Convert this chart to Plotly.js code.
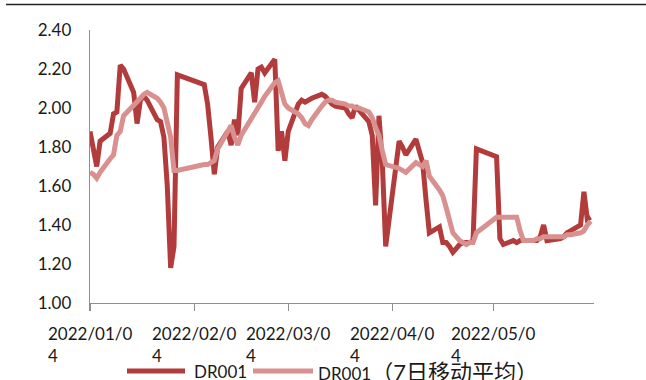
<!DOCTYPE html>
<html><head><meta charset="utf-8">
<script src="https://cdn.plot.ly/plotly-3.0.1.min.js"></script>
<style>html,body{margin:0;padding:0;background:#fff;}#chart{width:646px;height:380px;}</style>
</head><body><div id="chart"></div>
<script>
const dates = [
'2022-01-04','2022-01-05','2022-01-06','2022-01-07','2022-01-10','2022-01-11','2022-01-12','2022-01-13','2022-01-14',
'2022-01-17','2022-01-18','2022-01-19','2022-01-20','2022-01-21','2022-01-24','2022-01-25','2022-01-26','2022-01-27',
'2022-01-28','2022-01-29','2022-01-30','2022-02-07','2022-02-08','2022-02-09','2022-02-10','2022-02-11','2022-02-14',
'2022-02-15','2022-02-16','2022-02-17','2022-02-18','2022-02-21','2022-02-22','2022-02-23','2022-02-24','2022-02-25',
'2022-02-28','2022-03-01','2022-03-02','2022-03-03','2022-03-04','2022-03-07','2022-03-08','2022-03-09','2022-03-10',
'2022-03-11','2022-03-14','2022-03-15','2022-03-16','2022-03-17','2022-03-18','2022-03-21','2022-03-22','2022-03-23',
'2022-03-24','2022-03-25','2022-03-28','2022-03-29','2022-03-30','2022-03-31','2022-04-01','2022-04-02','2022-04-06',
'2022-04-07','2022-04-08','2022-04-11','2022-04-12','2022-04-13','2022-04-14','2022-04-15','2022-04-18','2022-04-19',
'2022-04-20','2022-04-21','2022-04-22','2022-04-24','2022-04-25','2022-04-26','2022-04-27','2022-04-28','2022-04-29',
'2022-05-05','2022-05-06','2022-05-07','2022-05-09','2022-05-10','2022-05-11','2022-05-12','2022-05-13','2022-05-16',
'2022-05-17','2022-05-18','2022-05-19','2022-05-20','2022-05-23','2022-05-24','2022-05-25','2022-05-26','2022-05-27',
'2022-05-30','2022-05-31','2022-06-01','2022-06-02'];
const dr001 = [
1.88,1.78,1.70,1.83,1.87,1.97,1.98,2.22,2.20,
2.08,1.92,2.04,2.06,2.04,1.94,1.93,1.85,1.60,
1.18,1.29,2.17,2.12,2.02,1.85,1.66,1.80,1.88,
1.81,1.94,1.86,2.10,2.18,2.03,2.20,2.21,2.18,
2.25,1.78,1.88,1.73,1.88,2.02,2.04,2.03,2.04,
2.05,2.07,2.06,2.04,2.02,2.01,2.00,1.97,1.95,
2.01,1.99,1.93,1.86,1.50,1.96,1.72,1.29,1.83,
1.80,1.76,1.84,1.78,1.72,1.53,1.36,1.39,1.31,
1.31,1.29,1.26,1.30,1.31,1.31,1.31,1.32,1.79,
1.75,1.33,1.30,1.31,1.32,1.31,1.32,1.32,1.32,
1.32,1.34,1.40,1.32,1.33,1.33,1.34,1.36,1.37,
1.40,1.57,1.43,1.44];
const dr001Ma7 = [
1.67,1.66,1.64,1.67,1.74,1.76,1.86,1.88,1.96,
2.01,2.03,2.05,2.07,2.08,2.05,2.03,2.00,1.93,
1.85,1.68,1.68,1.71,1.71,1.72,1.73,1.79,1.88,
1.91,1.85,1.81,1.86,1.94,1.97,2.00,2.03,2.06,
2.13,2.14,2.08,2.02,2.00,1.97,1.95,1.92,1.91,
1.94,2.01,2.03,2.04,2.04,2.03,2.02,2.01,2.01,
2.00,2.00,1.98,1.95,1.90,1.86,1.78,1.71,1.69,
1.68,1.67,1.72,1.71,1.70,1.73,1.65,1.58,1.55,
1.49,1.42,1.36,1.32,1.31,1.30,1.31,1.31,1.36,
1.44,1.44,1.44,1.44,1.44,1.44,1.37,1.32,1.32,
1.33,1.33,1.34,1.34,1.34,1.34,1.34,1.35,1.35,
1.36,1.37,1.40,1.42];
const tickDates = ['2022-01-04','2022-02-04','2022-03-04','2022-04-04','2022-05-04'];
const tickLabels = ['2022/01/04','2022/02/04','2022/03/04','2022/04/04','2022/05/04'];
const seriesNames = ['DR001','DR001（7日移动平均）'];
const xRange = ['2022-01-04','2022-06-03'];
const yRange = [1.0, 2.4];

const W = 646, H = 380, M = {l: 90, r: 52, t: 30, b: 77};
const PW = W - M.l - M.r, PH = H - M.t - M.b;
const px = X => (X - M.l) / PW;
const py = Y => (H - M.b - Y) / PH;

const DARK = '#B23B3B', LIGHT = '#D8918F', AXIS = '#8E8E8E';
const FONT = 'Lato, "Noto Sans CJK SC", sans-serif';

const traces = [
  {x: dates, y: dr001, type: 'scatter', mode: 'lines', name: seriesNames[0],
   line: {color: DARK, width: 5}},
  {x: dates, y: dr001Ma7, type: 'scatter', mode: 'lines', name: seriesNames[1],
   line: {color: LIGHT, width: 5}}
];

const annotations = tickDates.map((d, i) => ({
  x: d, xref: 'x', y: 0, yref: 'paper', yshift: -18,
  xanchor: 'center', yanchor: 'top', align: 'left', showarrow: false,
  text: tickLabels[i].slice(0, 9) + '<br>' + tickLabels[i].slice(9),
  font: {family: FONT, size: 17, color: '#1a1a1a'}
}));
annotations.push({
  x: px(192), xref: 'paper', y: py(371), yref: 'paper', xanchor: 'left', yanchor: 'middle',
  showarrow: false, text: seriesNames[0], font: {family: FONT, size: 17, color: '#1a1a1a'}
});
annotations.push({
  x: px(316), xref: 'paper', y: py(371), yref: 'paper', xanchor: 'left', yanchor: 'middle',
  showarrow: false,
  text: seriesNames[1].slice(0, 5) + '<span style="font-size:22px">' + seriesNames[1].slice(5) + '</span>',
  font: {family: FONT, size: 17, color: '#1a1a1a'}
});

const shapes = [
  {type: 'line', xref: 'paper', yref: 'paper', x0: px(6), x1: px(646), y0: py(4.5), y1: py(4.5),
   line: {color: '#222', width: 1.5}},
  {type: 'line', xref: 'paper', yref: 'paper', x0: px(127), x1: px(185), y0: py(371), y1: py(371),
   line: {color: DARK, width: 5}},
  {type: 'line', xref: 'paper', yref: 'paper', x0: px(253), x1: px(313), y0: py(371), y1: py(371),
   line: {color: LIGHT, width: 5}}
];

const layout = {
  width: W, height: H, margin: M, showlegend: false,
  paper_bgcolor: '#fff', plot_bgcolor: '#fff',
  font: {family: FONT, size: 17, color: '#1a1a1a'},
  xaxis: {type: 'date', range: xRange, showgrid: false, zeroline: false,
    showline: true, linecolor: AXIS, linewidth: 1.3,
    tickmode: 'array', tickvals: tickDates, showticklabels: false,
    ticks: 'outside', ticklen: 7, tickcolor: AXIS, tickwidth: 1.3, fixedrange: true},
  yaxis: {range: yRange, dtick: 0.2, tick0: 1, tickformat: '.2f', showgrid: false, zeroline: false,
    showline: true, linecolor: AXIS, linewidth: 1.3, ticks: '', ticklabelstandoff: 14,
    tickfont: {family: FONT, size: 17, color: '#1a1a1a'}, fixedrange: true},
  annotations: annotations,
  shapes: shapes
};

Plotly.newPlot('chart', traces, layout, {staticPlot: true, displayModeBar: false});
</script>
</body></html>
